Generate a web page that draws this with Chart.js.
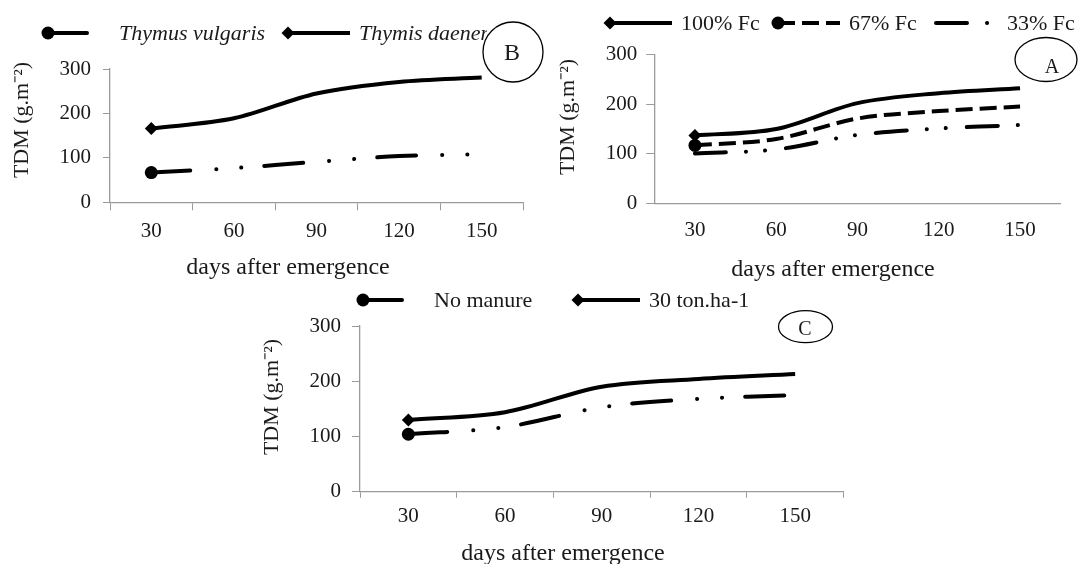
<!DOCTYPE html>
<html>
<head>
<meta charset="utf-8">
<script src="https://cdn.jsdelivr.net/npm/chart.js@4.4.1/dist/chart.umd.min.js"></script>
<style>
  body { margin: 0; background: #fff; }
  #wrap { position: relative; width: 1078px; height: 564px; overflow: hidden; background: #fff; }
  canvas { position: absolute; }
</style>
</head>
<body>
<div id="wrap">
  <canvas id="chartB" width="548" height="285" style="left:0;top:0"></canvas>
  <canvas id="chartA" width="538" height="285" style="left:540px;top:0"></canvas>
  <canvas id="chartC" width="600" height="279" style="left:250px;top:285px"></canvas>
</div>
<script>
const days = ['30', '60', '90', '120', '150'];

// panel B - species
const thymusVulgaris = [67, 77, 91, 104, 108];
const thymisDaenensis = [166, 189, 245, 271, 281];

// panel A - irrigation (field capacity)
const fc100 = [137, 150, 202, 222, 232];
const fc67 = [117, 130, 171, 186, 195];
const fc33 = [101, 109, 138, 151, 158];

// panel C - manure
const noManure = [104, 117, 153, 168, 175];
const manure30 = [130, 144, 190, 204, 213];

const SERIF = '"Liberation Serif", "Times New Roman", serif';
const INK = '#1a1a1a';
const AXIS = '#9a9a9a';

const dashDot = [39, 26, 0.1, 25, 0.1, 23];
const dashDotShort = [31, 20, 0.1, 19, 0.1, 21];
const dashed = [17, 7];

// Construir un dataset con marcador solo en el primer punto
function series(label, data, dash, marker) {
    return {
        label: label,
        data: data,
        borderColor: '#000',
        borderWidth: 4,
        borderDash: dash,
        borderCapStyle: dash.length > 2 ? 'round' : 'butt',
        tension: 0.33,
        fill: false,
        pointStyle: marker || false,
        pointRadius: [marker ? 6.5 : 0, 0, 0, 0, 0],
        pointBackgroundColor: '#000',
        pointBorderColor: '#000',
        pointBorderWidth: 0
    };
}

function drawMarker(ctx, style, x, y, r) {
    if (!style) return;
    ctx.fillStyle = '#000';
    ctx.beginPath();
    if (style === 'circle') {
        ctx.arc(x, y, r, 0, Math.PI * 2);
    } else {
        ctx.moveTo(x, y - r);
        ctx.lineTo(x + r, y);
        ctx.lineTo(x, y + r);
        ctx.lineTo(x - r, y);
        ctx.closePath();
    }
    ctx.fill();
}

// Leyenda, titulos de ejes y la etiqueta en elipse
const panelDecor = {
    id: 'panelDecor',
    afterDraw(chart, args, opts) {
        const ctx = chart.ctx;
        ctx.save();

        chart.data.datasets.forEach((ds, i) => {
            const x = opts.legendX[i];
            const y = opts.legendY;
            ctx.strokeStyle = '#000';
            ctx.lineWidth = ds.borderWidth;
            ctx.lineCap = ds.borderCapStyle;
            ctx.setLineDash(ds.borderDash);
            ctx.beginPath();
            ctx.moveTo(x, y);
            ctx.lineTo(x + 62, y);
            ctx.stroke();
            ctx.setLineDash([]);
            drawMarker(ctx, ds.pointStyle, x, y, 6.5);

            ctx.save();
            if (opts.legendClip) {
                ctx.beginPath();
                ctx.rect(0, 0, opts.legendClip, chart.height);
                ctx.clip();
            }
            ctx.font = opts.legendFont;
            ctx.fillStyle = INK;
            ctx.textAlign = 'left';
            ctx.textBaseline = 'middle';
            ctx.fillText(ds.label, x + 71, y + 1);
            ctx.restore();
        });

        // titulo eje x
        ctx.font = '24px ' + SERIF;
        ctx.fillStyle = INK;
        ctx.textAlign = 'center';
        ctx.textBaseline = 'middle';
        ctx.fillText('days after emergence', opts.xTitle[0], opts.xTitle[1]);

        // titulo eje y
        ctx.save();
        ctx.translate(opts.yTitle[0], opts.yTitle[1]);
        ctx.rotate(-Math.PI / 2);
        ctx.font = '22px ' + SERIF;
        ctx.fillText('TDM (g.m\u207B\u00B2)', 0, 0);
        ctx.restore();

        // etiqueta del panel
        const t = opts.tag;
        ctx.strokeStyle = '#000';
        ctx.lineWidth = 1.3;
        ctx.beginPath();
        ctx.ellipse(t.cx, t.cy, t.rx, t.ry, 0, 0, Math.PI * 2);
        ctx.stroke();
        ctx.font = t.size + 'px ' + SERIF;
        ctx.fillText(t.text, t.tx, t.ty);

        ctx.restore();
    }
};

function makeChart(id, datasets, L) {
    const ctx = document.getElementById(id).getContext('2d');
    return new Chart(ctx, {
        type: 'line',
        data: { labels: days, datasets: datasets },
        plugins: [panelDecor],
        options: {
            responsive: false,
            animation: false,
            layout: { padding: { left: 0, top: L.top, right: L.right, bottom: 0 } },
            plugins: {
                legend: { display: false },
                tooltip: { enabled: false },
                panelDecor: L.decor
            },
            scales: {
                x: {
                    offset: true,
                    grid: {
                        offset: true,
                        drawOnChartArea: false,
                        drawTicks: L.xTick > 0,
                        tickLength: L.xTick,
                        color: AXIS
                    },
                    border: { color: AXIS, width: 1.3 },
                    ticks: { padding: L.xPad, color: INK, font: { family: SERIF, size: 21 }, maxRotation: 0 },
                    afterFit: s => { s.height = L.xHeight; }
                },
                y: {
                    min: 0,
                    max: 300,
                    grid: { drawOnChartArea: false, tickLength: L.yTick, color: AXIS },
                    border: { color: AXIS, width: 1.3 },
                    ticks: { stepSize: 100, padding: L.yPad, color: INK, font: { family: SERIF, size: 21 } },
                    afterFit: s => { s.width = L.yWidth; }
                }
            }
        }
    });
}

makeChart('chartB', [
    series('Thymus vulgaris', thymusVulgaris, dashDot, 'circle'),
    series('Thymis daenensis', thymisDaenensis, [], 'rectRot')
], {
    top: 69, right: 25, yWidth: 110, xHeight: 82.7,
    xTick: 8, xPad: 9, yTick: 7, yPad: 12,
    decor: {
        legendX: [48, 288], legendY: 33, legendClip: 487,
        legendFont: 'italic 22px ' + SERIF,
        xTitle: [288, 268], yTitle: [22, 120],
        tag: { cx: 513, cy: 52, rx: 30, ry: 30, text: 'B', tx: 512, ty: 54, size: 24 }
    }
});

makeChart('chartA', [
    series('100% Fc', fc100, [], 'rectRot'),
    series('67% Fc', fc67, dashed, 'circle'),
    series('33% Fc', fc33, dashDotShort, null)
], {
    top: 54.3, right: 17.3, yWidth: 114.3, xHeight: 81.3,
    xTick: 0, xPad: 14, yTick: 8, yPad: 9,
    decor: {
        legendX: [70, 238, 396], legendY: 23,
        legendFont: '22px ' + SERIF,
        xTitle: [293, 270], yTitle: [28, 117],
        tag: { cx: 506, cy: 59.5, rx: 31, ry: 22, text: 'A', tx: 512, ty: 68, size: 20 }
    }
});

makeChart('chartC', [
    series('No manure', noManure, dashDot, 'circle'),
    series('30 ton.ha-1', manure30, [], 'rectRot')
], {
    top: 41, right: 3.3, yWidth: 110, xHeight: 72.3,
    xTick: 6, xPad: 6, yTick: 8, yPad: 11,
    decor: {
        legendX: [113, 328], legendY: 15,
        legendFont: '22px ' + SERIF,
        xTitle: [313, 269], yTitle: [22, 112],
        tag: { cx: 555.5, cy: 41.7, rx: 27, ry: 16, text: 'C', tx: 555, ty: 45, size: 20 }
    }
});
</script>
</body>
</html>
